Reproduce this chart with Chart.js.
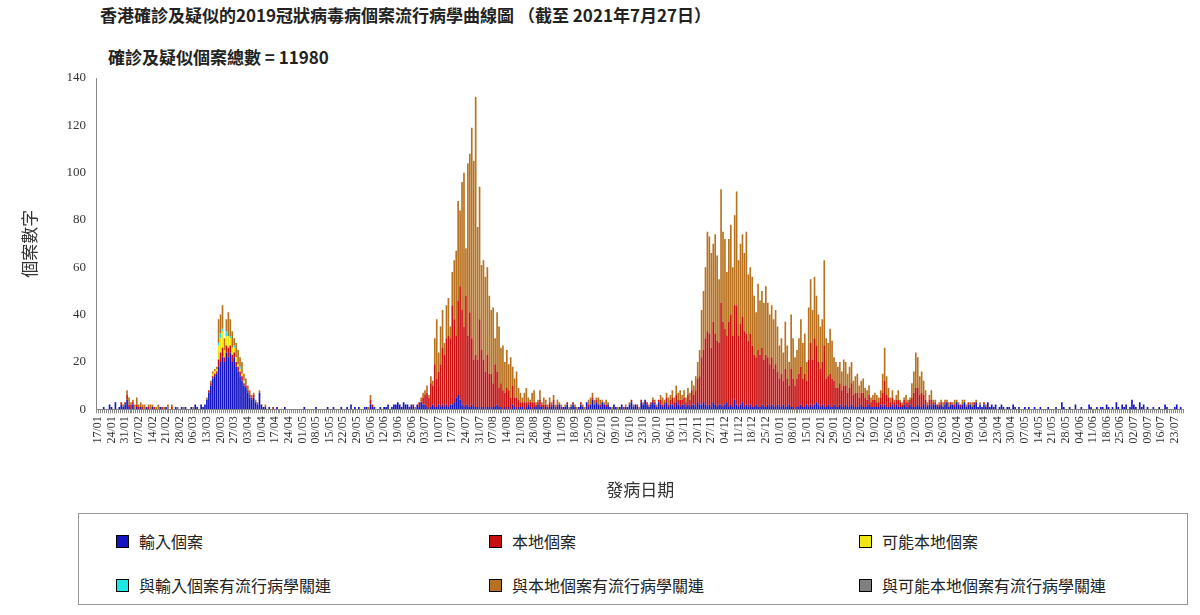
<!DOCTYPE html>
<html>
<head>
<meta charset="utf-8">
<script src="https://cdn.jsdelivr.net/npm/chart.js@4/dist/chart.umd.min.js"></script>
<style>
  body { margin: 0; background: #fff; font-family: "Noto Sans CJK TC", "Liberation Serif", serif; }
  #wrap { position: relative; width: 1200px; height: 615px; }
  #chartBox { position: absolute; left: 0; top: 0; width: 1200px; height: 505px; }
  .title { position: absolute; left: 100px; top: 2px; font-size: 17px; font-weight: bold; color: #222; }
  .sub { position: absolute; left: 108px; top: 44px; font-size: 17px; font-weight: bold; color: #222; }
  #legend { position: absolute; left: 78px; top: 513px; width: 1110px; height: 92px; border: 1px solid #999; box-sizing: border-box; }
  .item { position: absolute; font-size: 16px; color: #222; display: flex; align-items: center; }
  .sw { width: 11px; height: 11px; border: 1px solid #000; margin-right: 10px; }
</style>
</head>
<body>
<div id="wrap">
  <div class="title">香港確診及疑似的2019冠狀病毒病個案流行病學曲線圖 （截至 2021年7月27日）</div>
  <div class="sub">確診及疑似個案總數 = 11980</div>
  <div id="chartBox"><canvas id="c"></canvas></div>
  <div id="legend"></div>
</div>
<script>
// day 0 = 17/01/2020, last day = 27/07/2021
const startDate = new Date(2020, 0, 17)
const dayCount = 558

const zeros = n => Array(n).fill(0)

// period A: 17/01 - 12/03/2020
const impA = [0,0,0,1,0,0,2,1,0,3, 0,1,2,1,2,4,1,0,2,0, 1,0,1,0,0,1,0,0,1,0, 0,0,1,0,0,1,0,0,0,0, 1,0,0,1,0,1,0,0,1,0, 2,1,0,2,1,2]
const locA = [0,0,0,0,0,0,0,0,0,0, 0,0,1,0,1,2,1,2,1,0, 1,1,0,1,0,0,1,0,0,1, 0,0,0,1,0,0,0,0,1,0, 0,0,0,0,0,0,0,0,0,0, 0,0,0,0,0,0]
const epiA = [0,0,0,0,0,0,0,0,0,0, 0,0,0,1,0,2,3,1,1,2, 3,1,2,1,2,0,1,2,1,0, 1,2,0,0,1,0,2,0,1,0, 0,1,0,0,1,0,0,0,0,1, 0,0,0,0,0,0]

// period B: 13/03 - 16/04/2020
const impB = [4,7,10,13,14,15,18,20,22,20, 24,22,24,20,22,18,16,14,12,10, 9,7,5,4,5,3,2,7,2,1, 1,0,1,0,0]
const locB = [0,1,1,1,1,1,3,4,4,2, 3,4,3,3,2,2,2,2,2,1, 1,1,1,1,1,0,0,0,0,0, 0,0,0,0,1]
const possB = [0,0,0,1,1,1,6,6,7,3, 4,5,3,3,2,2,1,1,1,1, 0,0,0,0,0,0,0,0,0,0, 0,0,0,0,0]
const impEpiB = [0,0,0,0,0,0,1,2,1,0, 2,0,1,0,1,0,0,1,0,0, 0,0,0,0,0,0,0,0,0,0, 0,0,0,0,0]
const epiB = [1,0,1,1,1,1,10,8,10,5, 5,10,7,7,3,6,6,4,5,3, 3,2,2,1,1,1,1,1,0,0, 1,0,0,0,0]

// period C: 17/04 - 02/07/2020
const impC = [0,1,0,0,0,1,0,0,0,0, 0,0,0,0,0,1,0,0,0,0, 0,1,0,0,0,0,0,1,0,0, 1,0,0,0,1,0,0,1,0,2,
  0,1,0,1,0,0,1,1,0,2, 1,1,0,0,1,0,1,1,2,0, 1,2,2,3,2,1,3,2,2,1, 2,1,0,2,1,3,2]
const locC = [...zeros(49), 2,1, ...zeros(20), 1,0,0,2,0,3]
const epiC = [...zeros(48), 1,2, ...zeros(22), 1,0,0,2,2]

// period D: 03/07 - 08/09/2020
const impD = [2,1,0,1,2,1,1,2,1,2, 1,2,1,2,2,3,5,6,4,2, 1,2,1,1,2,1,1,1,0,1, 1,0,1,1,0,1,1,2,1,1,
  0,1,0,1,0,2,1,0,1,1, 1,0,1,2,1,0,1,1,2,1, 1,0,1,0,1,1,2,0]
const locD = [4,6,5,10,8,18,12,14,18,24, 22,28,30,28,42,35,26,40,48,40, 34,46,30,40,28,20,22,20,38,24,
  20,16,22,14,15,10,18,14,8,10, 8,6,9,7,5,8,4,5,3,2, 2,3,2,1,2,3,2,1,1,3, 1,2,1,1,2,1,2,1]
const epiD = [2,3,1,3,2,11,25,8,16,16, 5,14,16,5,14,25,36,42,32,54, 65,20,73,67,89,84,109,56,56,36,
  42,40,37,33,27,32,11,25,26,15, 19,13,16,11,17,8,8,11,5,4, 2,4,6,2,1,4,5,1,1,4, 1,3,2,1,2,1,2,1]

// period E: 09/09 - 11/11/2020
const impE = [1,2,0,1,1,2,0,1,2,1, 0,1,2,1,0,3,1,2,4,2, 3,2,1,3,2,1,2,1,0,2, 1,0,1,2,0,1,1,2,3,1,
  2,1,0,3,2,4,2,1,2,3, 2,1,3,2,1,2,3,1,2,2, 1,3,2,1]
const locE = [1,0,1,0,0,1,0,0,1,0, 0,0,1,0,0,0,1,0,1,0, 1,0,1,0,0,1,0,0,0,0, 0,0,0,0,1,0,0,0,1,0,
  0,1,0,1,0,0,1,0,1,1, 1,0,1,2,1,1,2,1,2,3, 2,3,2,3]
const epiE = [2,1,1,0,1,0,1,1,0,1, 1,0,0,1,1,0,2,3,2,2, 1,3,2,1,1,2,1,0,1,0, 0,1,0,0,0,1,0,1,0,1,
  0,0,1,0,1,0,0,1,0,1, 1,1,0,2,3,1,2,3,2,3, 2,4,3,4]

// period F: 12/11/2020 - 24/03/2021
const impF = [2,2,1,2,1,2,2,1,3,2, 2,3,2,1,2,1,3,2,1,2, 2,1,2,3,1,2,1,4,2,1, 2,3,1,2,1,2,1,1,2,1,
  1,2,1,1,2,1,2,1,1,2, 1,1,2,1,1,2,1,1,0,1, 1,2,1,1,2,1,2,1,2,3, 2,1,2,1,1,2,1,1,2,1,
  1,2,1,1,2,1,1,2,1,1, 1,1,2,1,1,1,2,1,1,1, 1,1,2,1,2,1,1,1,2,1, 2,1,1,1,2,1,1,2,1,1,
  1,2,1,1,2,1,1,2,1,2, 2,1,1]
const locF = [2,3,2,4,3,6,4,7,10,12, 20,22,28,32,30,25,34,30,28,26, 43,36,32,28,36,38,30,40,42,30,
  34,36,32,30,28,30,26,22,20,24, 22,24,20,22,20,18,20,16,18,14, 12,14,10,16,12,8,16,12,10,12,
  14,16,12,14,10,20,26,20,28,24, 18,16,18,26,12,12,14,12,10,8, 8,9,7,9,8,6,8,9,5,6,
  6,4,5,6,4,3,4,2,3,3, 2,2,3,6,10,5,4,2,3,2, 2,3,2,1,2,2,2,2,4,6, 8,7,5,6,4,3,1,2,3,1, 1,1,1]
const epiF = [2,3,2,3,3,4,4,6,7,11, 20,25,30,42,41,40,33,42,36,27, 48,38,38,27,35,38,29,38,48,32,
  34,35,33,43,28,28,29,25,19,28, 23,24,24,29,23,21,22,21,23,19, 14,15,12,20,14,10,23,17,12,12,
  15,20,15,17,8,22,27,21,26,21, 20,18,18,36,17,14,19,16,10,11, 9,9,8,11,10,8,9,9,6,7,
  8,5,5,6,4,4,4,2,2,3, 3,2,3,8,14,8,4,2,3,1, 2,4,1,1,1,3,1,1,6,9, 15,13,8,9,6,4,1,2,4,1, 1,0,1]

// period G: 25/03 - 27/07/2021
const impG = [2,1,2,3,1,2,2,1,3,2, 1,2,3,1,2,2,1,2,3,1, 2,1,2,1,3,1,2,1,2,0, 1,2,1,0,1,1,0,2,1,0,
  1,0,0,1,0,1,0,0,1,0, 0,1,0,0,0,1,0,0,0,1, 0,0,3,1,0,0,1,0,0,2, 0,0,1,0,0,0,2,1,0,0,
  1,0,1,1,0,2,1,0,1,0, 3,1,0,2,1,2,0,1,4,2, 1,0,3,1,2,0,1,0,0,1, 0,0,1,0,0,2,1,0,0,0, 1,2,0,1,0]
const locG = [1,0,1,0,0,1,0,1,0,0, 1,0,0,0,1,0,0,1,0,0, 0,0,1,0,0,0,0,0,0,0, ...zeros(95)]
const epiG = [1,2,1,1,2,0,1,2,1,1, 0,2,1,1,0,1,2,0,1,0, 1,0,0,1,0,0,0,0,0,0, ...zeros(95)]

const importedCases = [...impA, ...impB, ...impC, ...impD, ...impE, ...impF, ...impG]
const localCases = [...locA, ...locB, ...locC, ...locD, ...locE, ...locF, ...locG]
const possibleLocal = [...zeros(56), ...possB]
const importEpi = [...zeros(56), ...impEpiB]
const localEpi = [...epiA, ...epiB, ...epiC, ...epiD, ...epiE, ...epiF, ...epiG]
const possibleEpi = []

const yTicks = [0, 20, 40, 60, 80, 100, 120, 140]

const pad = n => String(n).padStart(2, '0')
const dayLabels = []
for (let i = 0; i < dayCount; i++) {
  const d = new Date(startDate.getTime() + i * 86400000)
  dayLabels.push(pad(d.getDate()) + '/' + pad(d.getMonth() + 1))
}

const series = [
  { label: '輸入個案', data: importedCases, color: '#1414c0' },
  { label: '本地個案', data: localCases, color: '#c81010' },
  { label: '可能本地個案', data: possibleLocal, color: '#f0e614' },
  { label: '與輸入個案有流行病學關連', data: importEpi, color: '#1ee6e6' },
  { label: '與本地個案有流行病學關連', data: localEpi, color: '#b8711e' },
  { label: '與可能本地個案有流行病學關連', data: possibleEpi, color: '#808080' }
]

const legendPos = [[117, 27], [490, 27], [860, 27], [117, 71], [490, 71], [860, 71]]
const legend = document.getElementById('legend')
series.forEach((s, i) => {
  const el = document.createElement('div')
  el.className = 'item'
  el.style.left = (legendPos[i][0] - 78 - 2) + 'px'
  el.style.top = (legendPos[i][1] - 12) + 'px'
  el.innerHTML = `<span class="sw" style="background:${s.color}"></span>${s.label}`
  legend.appendChild(el)
})

new Chart(document.getElementById('c'), {
  type: 'bar',
  data: {
    labels: dayLabels,
    datasets: series.map(s => ({
      label: s.label,
      data: s.data,
      backgroundColor: s.color,
      borderWidth: 0,
      barPercentage: 0.85,
      categoryPercentage: 1
    }))
  },
  options: {
    responsive: true,
    maintainAspectRatio: false,
    animation: false,
    layout: { padding: { left: 15, right: 14, top: 78, bottom: 0 } },
    plugins: { legend: { display: false }, tooltip: { enabled: false } },
    scales: {
      x: {
        stacked: true,
        grid: { display: true, drawOnChartArea: false, tickLength: 4, color: '#888' },
        border: { color: '#888' },
        ticks: {
          autoSkip: false,
          minRotation: 90,
          maxRotation: 90,
          color: '#333',
          font: { family: 'Liberation Serif', size: 12 },
          callback: (v, i) => (i % 7 === 0 ? dayLabels[i] : '')
        },
        title: { display: true, text: '發病日期', color: '#333', font: { family: 'Noto Sans CJK TC', size: 17 }, padding: { top: 33, bottom: 5 } }
      },
      y: {
        stacked: true,
        min: 0,
        max: 140,
        afterBuildTicks: axis => { axis.ticks = yTicks.map(v => ({ value: v })) },
        grid: { display: false },
        border: { color: '#888' },
        ticks: { color: '#333', font: { family: 'Liberation Serif', size: 13 } },
        title: { display: true, text: '個案數字', color: '#333', font: { family: 'Noto Sans CJK TC', size: 17 }, padding: { bottom: 24 } }
      }
    }
  }
})
</script>
</body>
</html>
